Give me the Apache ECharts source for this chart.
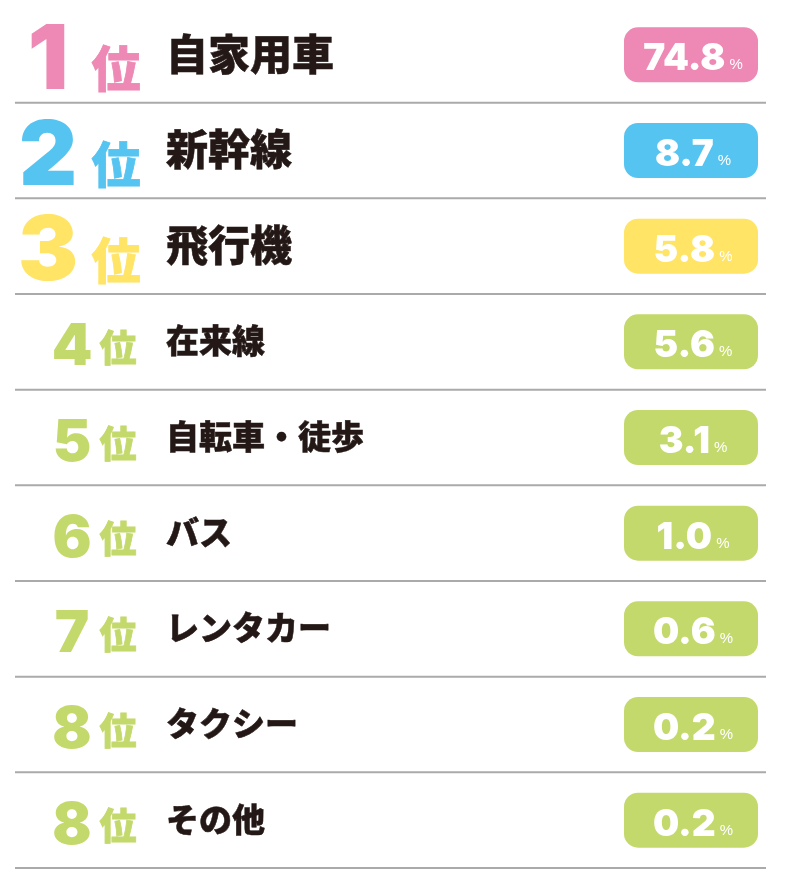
<!DOCTYPE html>
<html>
<head>
<meta charset="utf-8">
<script src="https://cdn.jsdelivr.net/npm/echarts@6/dist/echarts.min.js"></script>
<style>
  html, body { margin: 0; padding: 0; background: #fff; }
  #main { width: 788px; height: 885px; }
</style>
</head>
<body>
<div id="main"></div>
<script>
// 順位・項目・割合（%）
var ranks = ['1', '2', '3', '4', '5', '6', '7', '8', '8'];
var categories = ['自家用車', '新幹線', '飛行機', '在来線', '自転車・徒歩', 'バス', 'レンタカー', 'タクシー', 'その他'];
var values = [74.8, 8.7, 5.8, 5.6, 3.1, 1.0, 0.6, 0.2, 0.2];
var rankColors = ['#ee88b4', '#55c4f1', '#ffe465', '#c4d96c', '#c4d96c', '#c4d96c', '#c4d96c', '#c4d96c', '#c4d96c'];

var numFont = 'Inter, Roboto, "Liberation Sans", sans-serif';
var jpFont = '"Noto Sans CJK JP", sans-serif';

var myChart = echarts.init(document.getElementById('main'), null, { renderer: 'canvas' });

function renderRow(params, api) {
    var idx = api.value(0);
    var center = api.coord([0, idx]);
    var bandH = api.size([0, 1])[1];
    var cs = params.coordSys;
    var cy = center[1];
    var top3 = idx < 3;
    var color = rankColors[idx];
    var val = values[idx].toFixed(1);
    return {
        type: 'group',
        children: [
            // 区切り線
            {
                type: 'line',
                shape: { x1: cs.x, y1: cy + bandH / 2, x2: cs.x + cs.width, y2: cy + bandH / 2 },
                style: { stroke: '#aaaaaa', lineWidth: 2 }
            },
            // 順位の数字
            {
                type: 'text',
                style: {
                    text: ranks[idx],
                    x: top3 ? 48 : 72,
                    y: top3 ? cy + 7 : cy + 6,
                    align: 'center',
                    verticalAlign: 'middle',
                    fill: color,
                    font: (top3 ? '900 90px ' : '900 58px ') + numFont
                }
            },
            // 位
            {
                type: 'text',
                style: {
                    text: '位',
                    x: top3 ? 116 : 118,
                    y: top3 ? cy + 14 : cy + 6,
                    align: 'center',
                    verticalAlign: 'middle',
                    fill: color,
                    stroke: color,
                    lineWidth: 0.8,
                    font: (top3 ? '900 49px ' : '900 37px ') + jpFont
                }
            },
            // 項目名
            {
                type: 'text',
                style: {
                    text: categories[idx],
                    x: 166,
                    y: cy - 1,
                    align: 'left',
                    verticalAlign: 'middle',
                    fill: '#231815',
                    stroke: '#231815',
                    lineWidth: 0.5,
                    font: (top3 ? '900 42px ' : '900 33px ') + jpFont
                }
            },
            // 割合の角丸ラベル
            {
                type: 'rect',
                shape: { x: 624, y: cy - 27.5, width: 134, height: 55, r: 14 },
                style: { fill: color }
            },
            {
                type: 'text',
                style: {
                    text: '{v|' + val + '}{p|%}',
                    x: 693,
                    y: cy + 1,
                    align: 'center',
                    verticalAlign: 'middle',
                    rich: {
                        v: {
                            fill: '#fff',
                            font: '900 37px ' + numFont, lineHeight: 44, verticalAlign: 'bottom'
                        },
                        p: {
                            fill: '#fff',
                            font: '400 15px "Liberation Sans", Arial, sans-serif', lineHeight: 20, verticalAlign: 'bottom',
                            padding: [0, 0, 5, 4]
                        }
                    }
                }
            }
        ]
    };
}

myChart.setOption({
    animation: false,
    grid: { left: 15, right: 22, top: 7, bottom: 17 },
    xAxis: { type: 'value', min: 0, max: 1, show: false },
    yAxis: {
        type: 'category',
        data: categories,
        inverse: true,
        show: false
    },
    series: [
        {
            type: 'custom',
            renderItem: renderRow,
            data: values.map(function (v, i) { return [i, v]; })
        }
    ]
});
</script>
</body>
</html>
